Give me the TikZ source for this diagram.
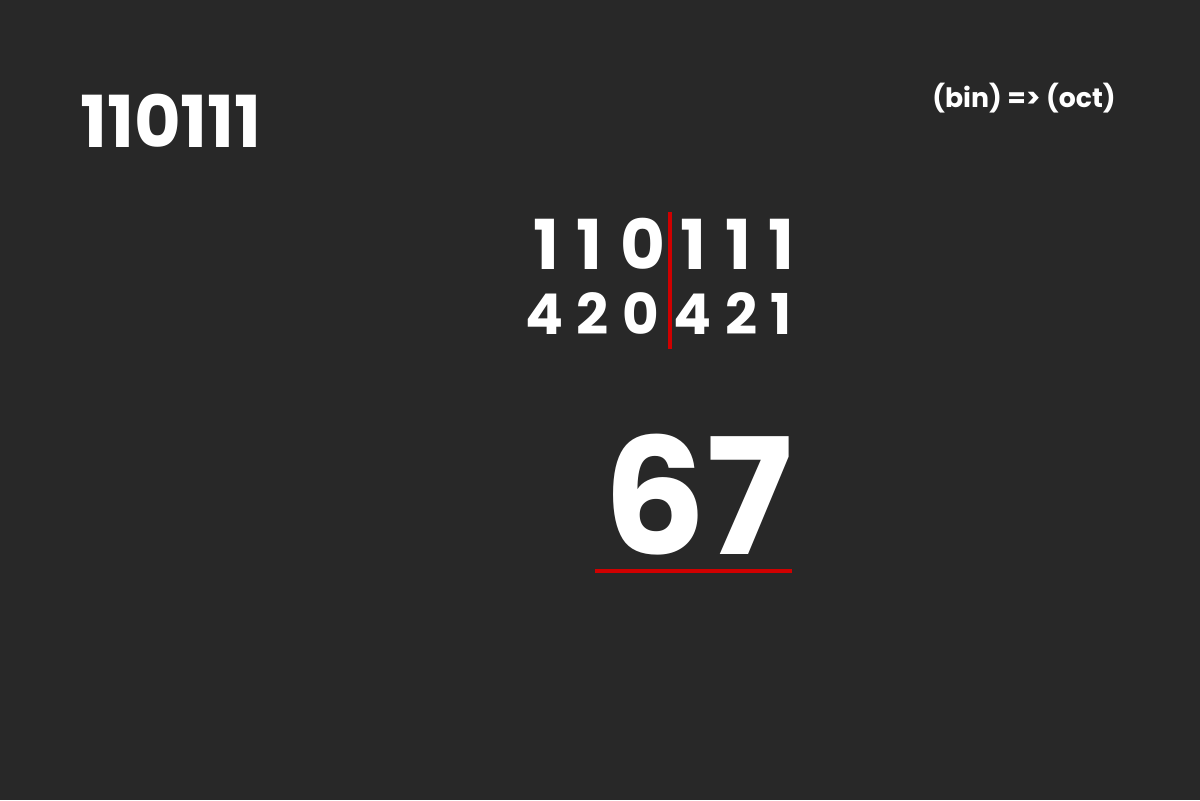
\documentclass[tikz,border=0pt]{standalone}
\usepackage{fontspec}
\setmainfont{Poppins}
\usepackage{xcolor}
\usetikzlibrary{positioning}
\definecolor{slate}{HTML}{282828}
\definecolor{chalk}{HTML}{FFFFFF}
\definecolor{cutred}{HTML}{D00000}

\begin{document}
\begin{tikzpicture}[
  bitdigit/.style={anchor=base,inner sep=0pt,text=chalk,
    font=\fontsize{49}{49}\selectfont\bfseries},
  weight/.style={anchor=base,inner sep=0pt,text=chalk,
    font=\fontsize{40}{40}\selectfont\bfseries},
  cut/.style={cutred,line width=2.2pt}
]
  \fill[slate] (0,0) rectangle (30,20);
  \useasboundingbox (0,0) rectangle (30,20);

  \node[anchor=base west,inner sep=0pt,text=chalk,
    font=\fontsize{51}{51}\selectfont\bfseries] (given) at (2.0,16.3)
    {110111};
  \node[anchor=base,inner sep=0pt,text=chalk,
    font=\fontsize{19}{19}\selectfont\bfseries] (task) at (25.6,17.3)
    {(bin) => (oct)};

  % binary digits and their weights
  \foreach \d/\x [count=\i] in {1/13.65,1/14.725,0/16.075,1/17.325,
    1/18.45,1/19.525}
    \node[bitdigit] (b\i) at (\x,13.25) {\d};
  \foreach \d/\x [count=\i] in {4/13.625,2/14.825,0/16.025,4/17.325,
    2/18.55,1/19.525}
    \node[weight] (w\i) at (\x,11.625) {\d};

  \coordinate (cuttop) at (16.75,14.7);
  \coordinate (cutbot) at (16.75,11.275);
  \draw[cut] (cuttop) -- (cutbot);

  \node[anchor=base,inner sep=0pt,text=chalk,
    font=\fontsize{115}{115}\selectfont\bfseries] (octal) at (17.45,6.15)
    {67};
  \coordinate (ulleft) at (14.875,5.725);
  \coordinate (ulright) at (19.8,5.725);
  \draw[cutred,line width=2.8pt] (ulleft) -- (ulright);
\end{tikzpicture}
\end{document}
